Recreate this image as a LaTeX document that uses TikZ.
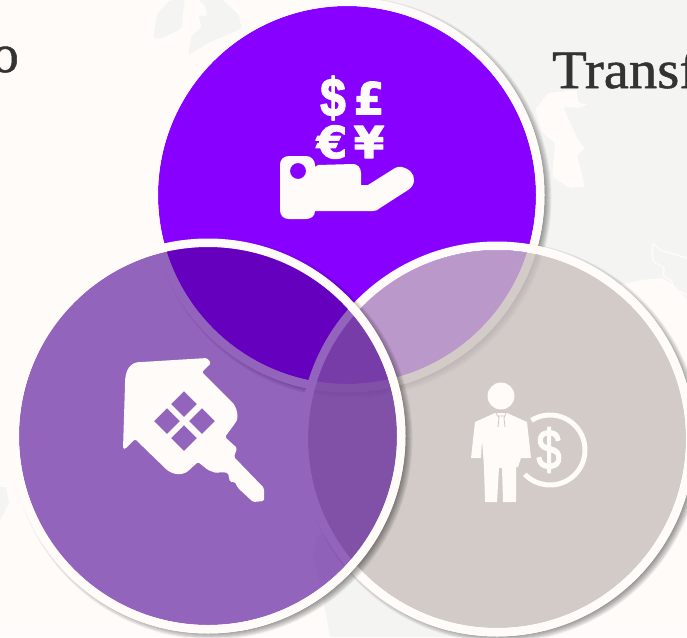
\documentclass[tikz,border=0pt]{standalone}
\usepackage{fontspec}
\setmainfont{Liberation Serif}
\newfontfamily\titlefont{Liberation Serif}
\newfontfamily\icofont{DejaVu Sans}[BoldFont={DejaVu Sans Bold}]
\newfontfamily\coinfont{Liberation Sans}[BoldFont={Liberation Sans Bold}]
\newcommand\heavy[2]{\special{pdf:code 2 Tr 1 j #1 w}#2\special{pdf:code 0 Tr 0 j 1 w}}
\definecolor{paper}{HTML}{FEFBF8}
\definecolor{land}{HTML}{F4F4F3}
\definecolor{inktext}{HTML}{333333}
\definecolor{vtop}{HTML}{8800FF}
\definecolor{vleft}{RGB}{76,0,147}
\definecolor{vright}{RGB}{200,191,189}
\definecolor{greyfill}{HTML}{D0C9C6}
\newcommand\vennshadow[2]{%
  \begin{scope}[even odd rule]
    \clip (-10,-10) rectangle (700,650) (#1,#2) circle (197.5);
    \foreach \i in {0,...,11}{\fill[black,opacity=.06] (#1+4,#2+3) circle ({189.5+\i});}
  \end{scope}}
\newcommand\vennring[2]{\fill[paper,even odd rule] (#1,#2) circle (197.5) (#1,#2) circle (189);}
\tikzset{
  icon/.style={fill=paper,even odd rule},
  currency/.style={text=paper,font=\icofont\bfseries\fontsize{44}{44}\selectfont,inner sep=0pt,anchor=center},
  title/.style={text=inktext,font=\titlefont\fontsize{54}{54}\selectfont,inner sep=0pt}
}
\begin{document}
\begin{tikzpicture}[x=1pt,y=-1pt]
\useasboundingbox (0,0) rectangle (687,637);
\clip (0,0) rectangle (687,637);
\fill[paper] (0,0) rectangle (687,637);
% faint map
\fill[land] (370,0) -- (687,0) -- (687,300) -- (673,284) -- (662,278) -- (640,280) -- (620,285) -- (605,280) -- (545,250) -- (530,240) -- (380,100) -- cycle;
\fill[paper,rounded corners=2pt] (535,110) -- (548,93) -- (577,90) -- (578,103) -- (588,104) -- (580,108) -- (563,107) -- (575,133) -- (578,140) -- (585,148) -- (577,155) -- (585,187) -- (570,188) -- (552,177) -- (555,143) -- (542,132) -- cycle;
\draw[paper,line width=1.5pt,rounded corners=2pt] (687,258) -- (660,250) -- (653,243) -- (652,250) -- (653,262) -- (665,268) -- (662,275) -- (673,282) -- (670,287) -- (687,295);
\fill[land,rounded corners=3pt] (168,2) -- (171,0) -- (185,0) -- (183,13) -- (182,28) -- (162,38) -- (153,39) -- (157,15) -- cycle;
\fill[land,rounded corners=3pt] (197,-2) -- (220,-2) -- (239,15) -- (240,23) -- (243,28) -- (210,42) -- (188,55) -- (192,35) -- (202,27) -- (198,15) -- (208,17) -- (205,5) -- cycle;
\fill[land] (0,487) -- (6,487) -- (9,503) -- (0,520) -- cycle;
\begin{scope}[even odd rule]
  \clip (-10,-10) rectangle (700,650) (497,439) circle (192);
  \fill[land] (340,530) -- (318,535) -- (312,555) -- (322,590) -- (330,637) -- (520,637) -- (520,600) -- cycle;
\end{scope}
% texts
\node[title,anchor=base east] (leftword) at (19,72) {\heavy{.5}{o}};
\node[title,anchor=base west] (rightword) at (552,88) {\scalebox{1.05}[1]{\heavy{.5}{Transf}}};
% top circle
\vennshadow{347}{195}
\fill[vtop] (347,195) circle (189);
\vennring{347}{195}
% right circle
\vennshadow{497}{439}
\fill[vright,opacity=.8] (497,439) circle (189);
\vennring{497}{439}
% left circle
\vennshadow{208}{436}
\fill[vleft,opacity=.6] (208,436) circle (189);
\vennring{208}{436}
% hand with currency
\node[currency,font=\coinfont\bfseries\fontsize{54}{54}\selectfont] (dollar) at (333,98) {\scalebox{.85}[1]{\heavy{1.5}{\$}}};
\node[currency] (pound) at (369,98) {\heavy{1.2}{£}};
\node[currency] (euro) at (332,142) {\heavy{1.2}{€}};
\node[currency] (yen) at (369,142) {\heavy{1.2}{¥}};
\fill[icon] (289,156) .. controls (283,156) and (280,160) .. (280,165) -- (280,210) .. controls (280,216) and (284,219) .. (289,219) -- (306,219) .. controls (311,219) and (315,216) .. (315,211) -- (373,211) .. controls (376,211) and (378,210) .. (380,208) -- (408,190) .. controls (416,185) and (415,176) .. (411,172) .. controls (405,166) and (398,166) .. (395,168) -- (368,185) -- (361,185) -- (361,173) .. controls (361,167) and (357,164) .. (353,164) -- (318,165) -- (315,167) -- (315,165) .. controls (315,160) and (311,156) .. (306,156) -- cycle (298,171) circle (8);
% house key
\fill[icon,rounded corners=1.5pt] (123,449) -- (125,385) .. controls (125,370) and (130,362) .. (142,362) -- (207,358) -- (211,363) -- (202,372) -- (233,403) .. controls (238,410) and (238,418) .. (236,422) -- (225,437) -- (237,448) -- (234,457) -- (264,488) -- (264,501) -- (253,502) -- (238,488) -- (235,482) -- (230,482) -- (228,473) -- (222,472) -- (216,473) -- (208,470) -- (198,462) -- (187,472) .. controls (181,475) and (174,475) .. (167,470) -- (135,439) -- (125,449) -- cycle
 [sharp corners]
 (184,391) -- (197,404) -- (184,417) -- (171,404) -- cycle
 (167,408) -- (180,421) -- (167,434) -- (154,421) -- cycle
 (202,408) -- (215,421) -- (202,434) -- (189,421) -- cycle
 (184,425) -- (197,438) -- (184,451) -- (171,438) -- cycle;
% businessman
\fill[paper] (501,396) circle (13.5);
\fill[paper] (475,422) -- (495,413) -- (507,413) -- (527,422) -- (531,458) -- (521,458) -- (518,467) -- (516,467) -- (516,502) -- (503,502) -- (502,468) -- (499,468) -- (497,502) -- (485,502) -- (484,467) -- (482,440) -- (481,458) -- (471,458) -- cycle;
\draw[greyfill,line width=.8pt] (496,413) -- (499,418) -- (498,427) (506,413) -- (504,418) -- (505,427) (498,416) -- (505,416);
\draw[paper,line width=5pt] (550,450) ++(-122:35) arc[start angle=-122,end angle=136,radius=35];
\node[text=paper,font=\coinfont\fontsize{56}{56}\selectfont,inner sep=0pt] (coin) at (549,450) {\scalebox{.8}[1]{\heavy{1.6}{\$}}};
\end{tikzpicture}
\end{document}
